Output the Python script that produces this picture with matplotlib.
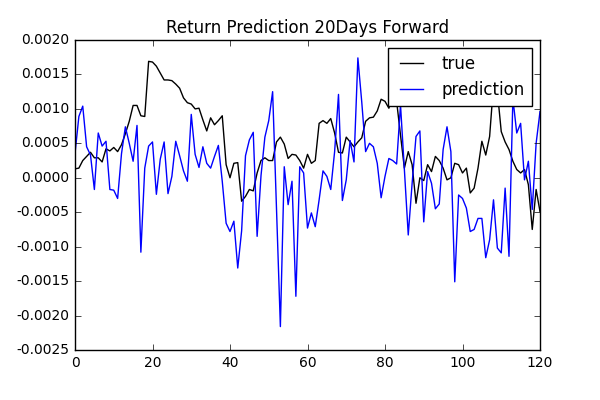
import numpy as np
import matplotlib
matplotlib.use("Agg")
import matplotlib.pyplot as plt

plt.style.use("classic")

# values, in units of 1e-4
true_vals = [1.3, 1.4, 2.5, 3.1, 3.7, 2.9, 2.9, 2.3, 4.2, 3.9,
             4.4, 3.8, 4.8, 6.4, 8.2, 10.5, 10.5, 9.0, 8.9, 16.9,
             16.8, 16.2, 15.2, 14.2, 14.2, 14.1, 13.6, 13.0, 11.6, 10.9,
             10.7, 10.0, 10.1, 8.4, 6.8, 8.7, 7.7, 8.3, 9.0, 1.9,
             0.0, 2.1, 2.2, -3.4, -2.7, -1.7, -1.9, 0.7, 2.5, 2.9,
             2.5, 2.5, 5.2, 5.9, 4.9, 2.8, 3.4, 3.3, 2.5, 1.4,
             3.4, 2.1, 2.5, 7.9, 8.3, 7.9, 8.6, 6.5, 3.7, 3.6,
             5.9, 5.2, 4.5, 5.2, 5.8, 8.2, 8.7, 8.8, 9.7, 11.4,
             11.1, 10.1, 11.7, 11.1, 6.2, 1.4, 3.8, 1.9, -3.7, 0.0,
             -0.4, 1.9, 0.9, 3.1, 2.5, 1.4, -0.3, 0.0, 2.1, 1.9,
             0.7, 1.4, -2.2, -1.5, 1.4, 5.3, 3.3, 6.0, 13.5, 12.5,
             6.7, 5.2, 4.1, 2.4, 1.2, 0.7, 1.2, -1.0, -7.5, -1.7,
             -4.9]

pred_vals = [3.5, 8.9, 10.4, 4.5, 3.3, -1.7, 6.5, 4.6, 5.3, -1.7,
             -1.8, -3.0, 3.5, 7.4, 5.0, 2.4, 7.6, -10.8, 1.4, 4.6,
             5.2, -2.4, 2.7, 5.2, -2.3, 0.2, 5.3, 3.2, 1.0, -0.5,
             9.2, 3.4, 1.5, 4.5, 2.1, 1.4, 3.1, 4.7, -0.5, -6.6,
             -7.8, -6.3, -13.1, -7.7, 3.2, 5.5, 6.6, -8.5, 0.3, 5.9,
             8.3, 12.5, -4.5, -21.6, 1.6, -3.9, -0.5, -17.2, 1.6, 0.7,
             -7.3, -5.1, -7.1, -3.2, 1.0, 0.2, -1.7, 3.8, 12.1, -3.3,
             -0.3, 5.4, 2.3, 17.4, 11.0, 3.8, 5.0, 4.5, 2.1, -2.9,
             0.2, 2.8, 2.5, 2.0, 10.6, 1.2, -8.3, -0.8, 6.0, 6.8,
             -6.4, 0.9, -0.8, -4.5, -3.8, 4.1, 7.4, 3.8, -15.1, -2.5,
             -3.0, -4.4, -7.8, -7.5, -5.9, -5.9, -11.6, -9.0, -3.2, -10.2,
             -10.9, -1.5, -11.4, 11.5, 6.5, 7.9, -0.3, 2.4, -4.6, 5.0,
             9.6]

true_ret = np.array(true_vals) * 1e-4
pred_ret = np.array(pred_vals) * 1e-4
days = np.arange(len(true_ret))

fig = plt.figure(figsize=(6, 4), dpi=100, facecolor="white")
ax = fig.add_axes([0.125, 0.125, 0.775, 0.775])

ax.plot(days, true_ret, color="k", lw=1.0, label="true")
ax.plot(days, pred_ret, color="b", lw=1.0, label="prediction")

ax.set_xlim(0, 120)
ax.set_ylim(-0.0025, 0.0020)
ax.set_xticks(np.arange(0, 121, 20))
ax.set_yticks(np.arange(-0.0025, 0.00201, 0.0005))
ax.set_yticklabels(["%.4f" % v for v in np.arange(-0.0025, 0.00201, 0.0005)])
ax.tick_params(labelsize=10)

ax.set_title("Return Prediction 20Days Forward", fontsize=12)
ax.legend(loc="upper right", fontsize=12)

fig.savefig("out.png", dpi=100, facecolor="white")
